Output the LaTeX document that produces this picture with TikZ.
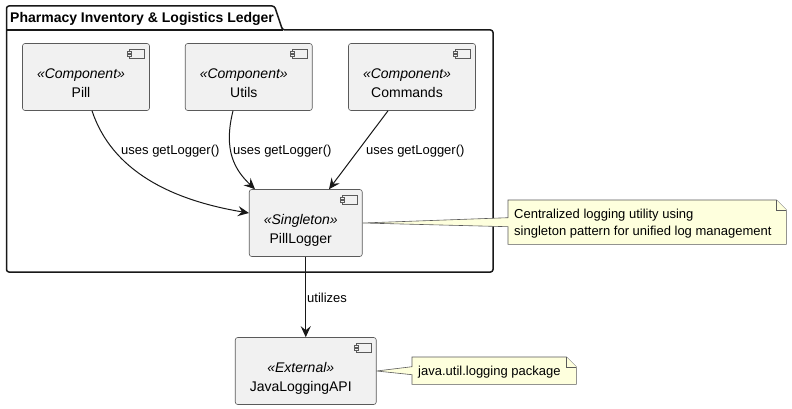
\documentclass[tikz,border=0pt]{standalone}
\usepackage{fontspec}
\setmainfont{Liberation Sans}
\usetikzlibrary{arrows.meta,calc}
\pgfdeclarelayer{pkglayer}
\pgfdeclarelayer{notelayer}
\pgfsetlayers{pkglayer,notelayer,main}
\definecolor{ink}{HTML}{181818}
\definecolor{thin}{HTML}{5A5A5A}
\definecolor{boxfill}{HTML}{F1F1F1}
\definecolor{notefill}{HTML}{FEFFDD}
\newcommand{\comptxt}[2]{\begin{tabular}{@{}c@{\hspace{10pt}}}\\[-4pt]\itshape #1\\ #2\end{tabular}}
\tikzset{
  compbox/.style={draw=thin,line width=0.6pt,fill=boxfill,rounded corners=2.5pt,inner sep=0pt,
    font=\fontsize{14}{19}\selectfont,
    path picture={\draw[thin,line width=0.5pt,sharp corners]
      ($(path picture bounding box.north east)+(-20,5.5)$) rectangle ($(path picture bounding box.north east)+(-5,15)$);
      \draw[thin,line width=0.5pt,fill=boxfill,sharp corners]
      ($(path picture bounding box.north east)+(-22.5,8)$) rectangle ($(path picture bounding box.north east)+(-18,10)$);
      \draw[thin,line width=0.5pt,fill=boxfill,sharp corners]
      ($(path picture bounding box.north east)+(-22.5,11)$) rectangle ($(path picture bounding box.north east)+(-18,13)$);}},
  edgeline/.style={draw=ink,line width=1pt,-{Stealth[length=11pt,width=10pt,inset=4pt]}},
  edgelabel/.style={font=\fontsize{13}{15}\selectfont,inner sep=0pt,text=black,anchor=west},
  notetext/.style={font=\fontsize{13}{17}\selectfont,inner xsep=6pt,inner ysep=0pt,align=flush left,text=black},
  noteline/.style={draw=thin,line width=0.6pt,fill=notefill,line join=miter},
  pkgline/.style={draw=ink,line width=1.5pt,fill=white,rounded corners=2.5pt},
  pkgtitle/.style={font=\fontsize{14}{16}\selectfont\bfseries,inner sep=0pt,anchor=west,text=black},
}
\begin{document}
\begin{tikzpicture}[x=1pt,y=-1pt]
\useasboundingbox (0,0) rectangle (792,409);

\node[pkgtitle] (pkgname) at (10,18.5) {Pharmacy Inventory \& Logistics Ledger};
\begin{pgfonlayer}{pkglayer}
  \fill[white] (0,0) rectangle (792,409);
  \draw[pkgline] (6.5,30) -- (6.5,6) -- (274.5,6) -- (282.5,30) -- (493,30) -- (493,272) -- (6.5,272) -- cycle;
  \draw[draw=ink,line width=1.5pt] (6.5,30) -- (282.5,30);
\end{pgfonlayer}

\node[compbox,minimum width=127pt,minimum height=67pt] (pill) at (86,77) {\comptxt{«Component»}{Pill}};
\node[compbox,minimum width=127pt,minimum height=67pt] (utils) at (248.75,77) {\comptxt{«Component»}{Utils}};
\node[compbox,minimum width=127pt,minimum height=67pt] (commands) at (412,77) {\comptxt{«Component»}{Commands}};
\node[compbox,minimum width=113pt,minimum height=67pt] (logger) at (305.75,223) {\comptxt{«Singleton»}{PillLogger}};
\node[compbox,minimum width=141pt,minimum height=67pt] (jlog) at (305.75,371) {\comptxt{«External»}{JavaLoggingAPI}};

\draw[edgeline] ([xshift=6pt]pill.south) .. controls +(20,60) and +(-78,-13) .. ([yshift=10pt]logger.west);
\draw[edgeline] ([xshift=-15.75pt]utils.south) .. controls +(-10,40) and +(-20,-19) .. ([xshift=-50.75pt]logger.north);
\draw[edgeline] ([xshift=-24pt]commands.south) -- ([xshift=23.25pt]logger.north);
\draw[edgeline] (logger.south) -- (jlog.north);

\node[edgelabel] (lab1) at (121,151) {uses getLogger()};
\node[edgelabel] (lab2) at (233,151) {uses getLogger()};
\node[edgelabel] (lab3) at (366,151) {uses getLogger()};
\node[edgelabel] (lab4) at (307,298) {utilizes};

\node[notetext,anchor=north west,text width=266pt,minimum height=44pt] (note1) at (508,200)
  {\rule{0pt}{12.5pt}Centralized logging utility using\\ singleton pattern for unified log management};
\begin{pgfonlayer}{notelayer}
  \draw[noteline] (note1.north west) -- ([xshift=-10pt]note1.north east) -- ([yshift=-10pt]note1.north east)
    -- (note1.south east) -- (note1.south west) -- ([yshift=-4.5pt]note1.west) -- (logger.east) -- ([yshift=4.5pt]note1.west) -- cycle;
  \draw[noteline] ([xshift=-10pt]note1.north east) -- ([xshift=-10pt,yshift=-10pt]note1.north east) -- ([yshift=-10pt]note1.north east);
\end{pgfonlayer}

\node[notetext,anchor=north west,text width=152pt,minimum height=27pt] (note2) at (412,357)
  {\rule{0pt}{12.5pt}java.util.logging package};
\begin{pgfonlayer}{notelayer}
  \draw[noteline] (note2.north west) -- ([xshift=-10pt]note2.north east) -- ([yshift=-10pt]note2.north east)
    -- (note2.south east) -- (note2.south west) -- ([yshift=-4pt]note2.west) -- (jlog.east) -- ([yshift=4pt]note2.west) -- cycle;
  \draw[noteline] ([xshift=-10pt]note2.north east) -- ([xshift=-10pt,yshift=-10pt]note2.north east) -- ([yshift=-10pt]note2.north east);
\end{pgfonlayer}
\end{tikzpicture}
\end{document}
